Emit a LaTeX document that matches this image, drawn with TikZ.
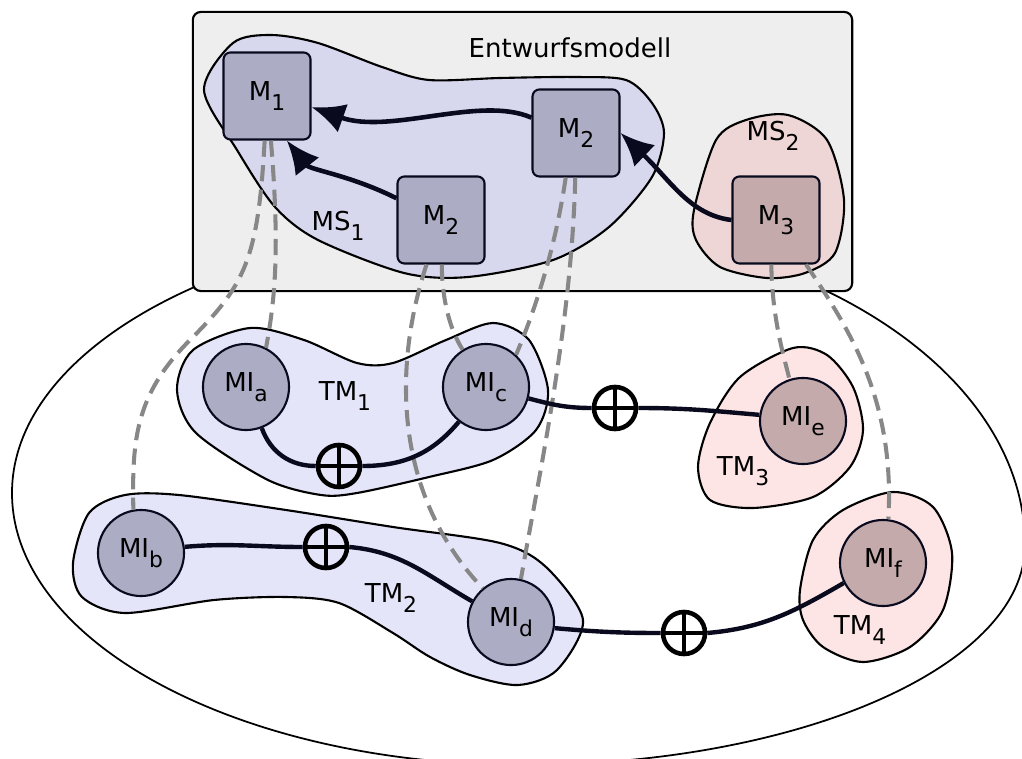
\documentclass[tikz,border=0pt]{standalone}
\usepackage{fontspec}
\setmainfont{DejaVu Sans}
\usetikzlibrary{arrows.meta}
\definecolor{modelbg}{HTML}{EEEEEE}
\definecolor{msblue}{HTML}{D7D7EE}
\definecolor{mspink}{HTML}{EED6D6}
\definecolor{tmblue}{HTML}{E5E5FA}
\definecolor{tmpink}{HTML}{FDE5E5}
\definecolor{elblue}{HTML}{ACACC5}
\definecolor{elpink}{HTML}{C4AAAA}
\definecolor{ink}{HTML}{0A0A1E}
\definecolor{depgray}{HTML}{878787}
\newcommand{\lowidx}[1]{\raisebox{-3pt}{\fontsize{6.2}{7}\selectfont #1}}
\begin{document}
\begin{tikzpicture}[x=0.01cm, y=-0.01cm, font=\fontsize{7.4}{9}\selectfont,
    blob/.style={draw=black, line width=0.6pt},
    modelbox/.style={draw=ink, fill=elblue, rounded corners=0.07cm, minimum size=0.87cm, line width=0.6pt},
    instcircle/.style={circle, draw=ink, fill=elblue, minimum size=0.86cm, inner sep=0pt, line width=0.6pt},
    pluscircle/.style={circle, draw=black, line width=1.3pt, minimum size=0.42cm, inner sep=0pt,
      path picture={\draw[line width=1.3pt] (path picture bounding box.north) -- (path picture bounding box.south)
        (path picture bounding box.west) -- (path picture bounding box.east);}},
    realizes/.style={draw=depgray, line width=1.15pt, dash pattern=on 4.6pt off 2.4pt},
    uses/.style={draw=ink, line width=1.3pt, -{Latex[length=0.33cm, width=0.3cm]}},
    links/.style={draw=ink, line width=1.25pt}]
  \useasboundingbox (0,0) rectangle (1022,758);
  \draw[line width=0.5pt] (12,493) .. controls (12,643) and (241,765) .. (523,765)
    .. controls (800,765) and (1025,666) .. (1025,545)
    .. controls (1025,368) and (798,225) .. (518,225)
    .. controls (239,225) and (12,345) .. cycle;
  \node[draw, fill=modelbg, rounded corners=0.08cm, minimum width=6.59cm, minimum height=2.79cm,
    line width=0.6pt] (entwurf) at (522.5,151.5) {};
  \node (entwurflabel) at (570,48) {Entwurfsmodell};
  \draw[blob, fill=msblue] plot[smooth cycle] coordinates {(233,43) (271,35) (318,43) (382,67) (429,80)
    (500,78) (575,77) (626,80) (652,103) (664,133) (652,177) (609,227) (553,260) (468,277) (404,273)
    (318,240) (275,207) (237,150) (204,90)};
  \draw[blob, fill=mspink] plot[smooth cycle] coordinates {(746,120) (788,115) (827,140) (844,200)
    (835,253) (805,273) (767,278) (720,267) (696,240) (694,210) (716,140)};
  \draw[blob, fill=tmblue] plot[smooth cycle] coordinates {(177,390) (193,350) (250,328) (304,340)
    (357,363) (393,363) (446,340) (493,323) (529,340) (548,390) (536,430) (493,460) (429,477)
    (357,493) (321,495) (268,480) (196,433)};
  \draw[blob, fill=tmblue] plot[smooth cycle] coordinates {(73,563) (89,513) (125,495) (179,495)
    (286,510) (393,527) (500,543) (546,567) (583,620) (557,670) (518,685) (470,675) (430,657)
    (393,633) (339,603) (286,597) (214,600) (125,613) (82,597)};
  \draw[blob, fill=tmpink] plot[smooth cycle] coordinates {(698,467) (710,423) (740,377) (793,348)
    (827,355) (853,387) (863,430) (850,467) (813,497) (753,508) (710,500)};
  \draw[blob, fill=tmpink] plot[smooth cycle] coordinates {(800,590) (813,540) (843,510) (893,492)
    (933,507) (952,553) (943,610) (910,647) (863,662) (823,647) (803,620)};
  \node (ms1) at (338,226) {MS\lowidx{1}};
  \node (ms2) at (773,136) {MS\lowidx{2}};
  \node (tm1) at (345,396) {TM\lowidx{1}};
  \node (tm2) at (391,598) {TM\lowidx{2}};
  \node (tm3) at (743,471) {TM\lowidx{3}};
  \node (tm4) at (860,630) {TM\lowidx{4}};
  \node[modelbox] (m1) at (267,96) {M\lowidx{1}};
  \node[modelbox] (m2a) at (576,133) {M\lowidx{2}};
  \node[modelbox] (m2b) at (441,220) {M\lowidx{2}};
  \node[modelbox, fill=elpink] (m3) at (776,220) {M\lowidx{3}};
  \node[instcircle] (mia) at (246,387) {MI\lowidx{a}};
  \node[instcircle] (mic) at (486,387) {MI\lowidx{c}};
  \node[instcircle] (mib) at (141,553) {MI\lowidx{b}};
  \node[instcircle] (mid) at (511,622) {MI\lowidx{d}};
  \node[instcircle, fill=elpink] (mie) at (803,421) {MI\lowidx{e}};
  \node[instcircle, fill=elpink] (mif) at (883,563) {MI\lowidx{f}};
  \node[pluscircle] (plusac) at (339,466) {};
  \node[pluscircle] (plusce) at (615,408) {};
  \node[pluscircle] (plusbd) at (326,547) {};
  \node[pluscircle] (plusdf) at (684,633) {};
  \draw[realizes] (m1.-93) .. controls (258,260) and (245,285) .. (190,340)
    .. controls (135,395) and (132,440) .. (mib.100);
  \draw[realizes] (m1.-85) .. controls (280,250) and (275,300) .. (mia.63);
  \draw[realizes] (m2b.-89) .. controls (442,300) and (450,330) .. (mic.122);
  \draw[realizes] (m2b.-108) .. controls (395,360) and (390,490) .. (mid.130);
  \draw[realizes] (m2a.-103) .. controls (555,250) and (535,310) .. (mic.47);
  \draw[realizes] (m2a.-91) .. controls (572,320) and (540,470) .. (mid.77);
  \draw[realizes] (m3.-96) .. controls (772,320) and (785,360) .. (mie.108);
  \draw[realizes] (m3.-56) .. controls (850,330) and (895,400) .. (mif.83);
  \draw[uses] (m2a.161) .. controls (480,95) and (390,135) .. (m1.-14);
  \draw[uses] (m2b.154) .. controls (350,175) and (310,170) .. (m1.-66);
  \draw[uses] (m3.west) .. controls (690,215) and (670,180) .. (m2a.east);
  \draw[links] (mia.-69) to[out=-70, in=180] (plusac.west);
  \draw[links] (plusac.east) to[out=0, in=-130] (mic.-128);
  \draw[links] (mic.-15) to[out=-15, in=180] (plusce.west);
  \draw[links] (plusce.east) to[out=0, in=175] (mie.172);
  \draw[links] (mib.8) to[out=5, in=180] (plusbd.west);
  \draw[links] (plusbd.east) to[out=-5, in=150] (mid.152);
  \draw[links] (mid.-8) to[out=-5, in=180] (plusdf.west);
  \draw[links] (plusdf.east) to[out=5, in=-150] (mif.-153);
\end{tikzpicture}
\end{document}
